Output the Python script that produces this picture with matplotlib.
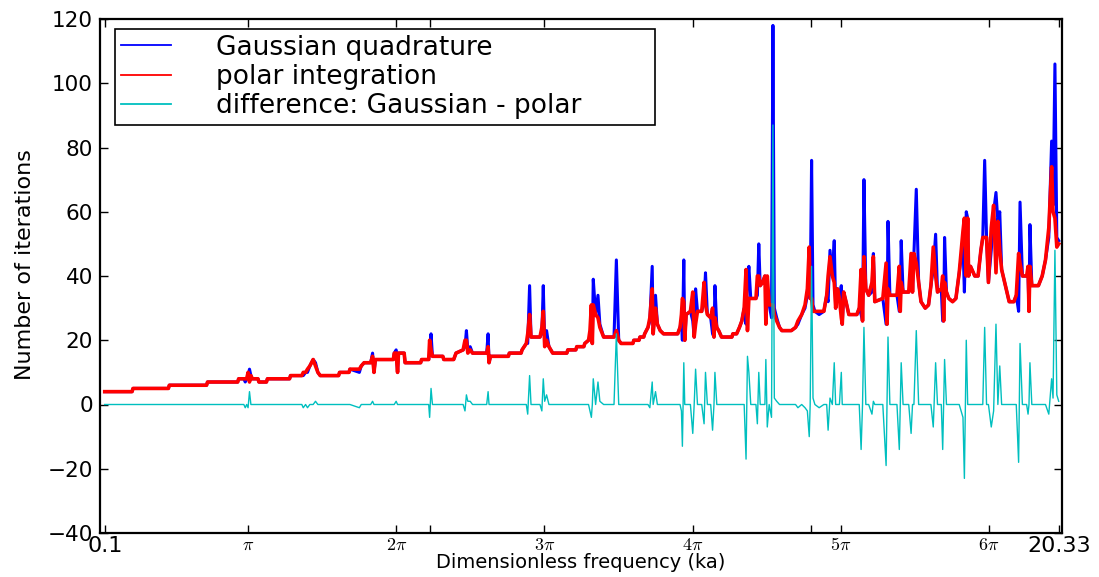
import numpy as np
import matplotlib
matplotlib.use("Agg")
import matplotlib.pyplot as plt

# ---------------- data ----------------
ka = [0.10, 0.68, 0.70, 1.45, 1.47, 2.26, 2.28, 2.92, 2.94, 3.05,
      3.08, 3.11, 3.14, 3.17, 3.20, 3.23, 3.35, 3.37, 3.53, 3.55,
      4.02, 4.04, 4.28, 4.31, 4.36, 4.40, 4.45, 4.52, 4.57, 4.62,
      4.67, 5.06, 5.08, 5.28, 5.30, 5.50, 5.54, 5.60, 5.74, 5.78,
      5.81, 5.84, 6.22, 6.24, 6.28, 6.31, 6.33, 6.45, 6.47, 6.80,
      6.82, 6.97, 6.99, 7.02, 7.05, 7.27, 7.29, 7.50, 7.55, 7.70,
      7.74, 7.77, 7.80, 7.85, 7.90, 8.20, 8.23, 8.25, 8.28, 8.66,
      8.68, 8.93, 8.95, 9.04, 9.07, 9.11, 9.14, 9.33, 9.37, 9.40,
      9.43, 9.47, 9.52, 9.60, 9.90, 9.92, 10.09, 10.11, 10.26, 10.28,
      10.36, 10.39, 10.42, 10.44, 10.46, 10.51, 10.56, 10.60, 10.68, 10.90,
      10.95, 11.00, 11.05, 11.30, 11.32, 11.43, 11.45, 11.53, 11.55, 11.62,
      11.66, 11.71, 11.73, 11.78, 11.82, 11.88, 11.95, 12.25, 12.30, 12.33,
      12.35, 12.38, 12.40, 12.43, 12.52, 12.57, 12.60, 12.63, 12.67, 12.76,
      12.81, 12.84, 12.88, 12.95, 12.99, 13.02, 13.04, 13.08, 13.12, 13.18,
      13.40, 13.42, 13.50, 13.56, 13.61, 13.66, 13.70, 13.73, 13.76, 13.80,
      13.91, 13.94, 13.97, 14.00, 14.05, 14.10, 14.12, 14.15, 14.19, 14.24,
      14.27, 14.30, 14.35, 14.41, 14.46, 14.66, 14.75, 14.80, 14.88, 14.95,
      15.00, 15.04, 15.06, 15.09, 15.12, 15.16, 15.25, 15.35, 15.41, 15.44,
      15.48, 15.53, 15.57, 15.60, 15.64, 15.68, 15.72, 15.74, 15.77, 15.82,
      15.88, 16.05, 16.10, 16.14, 16.17, 16.20, 16.24, 16.30, 16.37, 16.40,
      16.43, 16.60, 16.67, 16.69, 16.71, 16.75, 16.90, 16.95, 16.97, 16.99,
      17.03, 17.15, 17.20, 17.23, 17.26, 17.31, 17.36, 17.41, 17.50, 17.57,
      17.62, 17.67, 17.72, 17.76, 17.84, 17.87, 17.89, 17.91, 17.95, 18.00,
      18.08, 18.15, 18.22, 18.30, 18.33, 18.37, 18.40, 18.42, 18.46, 18.55,
      18.62, 18.68, 18.72, 18.76, 18.80, 18.84, 18.90, 18.95, 19.00, 19.04,
      19.08, 19.12, 19.20, 19.28, 19.38, 19.43, 19.48, 19.51, 19.56, 19.65,
      19.68, 19.70, 19.72, 19.76, 19.90, 19.98, 20.05, 20.12, 20.18, 20.21,
      20.25, 20.29, 20.33]

n_polar = [4, 4, 5, 5, 6, 6, 7, 7, 8, 8,
           8, 8, 10, 7, 9, 8, 8, 7, 7, 8,
           8, 9, 9, 10, 10, 11, 12, 14, 12, 10,
           9, 9, 10, 10, 11, 11, 12, 13, 13, 15,
           10, 14, 14, 16, 16, 10, 16, 16, 13, 13,
           14, 14, 20, 17, 15, 15, 14, 14, 16, 17,
           20, 20, 16, 17, 16, 16, 18, 13, 15, 15,
           16, 16, 17, 19, 22, 28, 21, 21, 24, 29,
           18, 20, 18, 16, 16, 17, 17, 18, 18, 19,
           20, 23, 31, 19, 31, 28, 27, 24, 21, 21,
           23, 20, 19, 19, 20, 20, 21, 21, 22, 24,
           27, 36, 22, 30, 25, 23, 22, 22, 24, 28,
           33, 32, 20, 28, 29, 35, 21, 25, 29, 29,
           38, 31, 28, 27, 30, 21, 27, 24, 23, 21,
           21, 22, 22, 24, 26, 30, 42, 23, 33, 33,
           33, 40, 40, 37, 38, 40, 25, 40, 31, 31,
           31, 28, 26, 24, 23, 23, 24, 26, 28, 31,
           36, 49, 33, 33, 29, 29, 29, 29, 34, 40,
           46, 40, 38, 30, 36, 33, 27, 25, 35, 32,
           28, 28, 30, 42, 26, 46, 36, 34, 38, 46,
           32, 33, 44, 25, 36, 34, 34, 43, 29, 38,
           35, 35, 47, 35, 47, 44, 38, 32, 30, 31,
           37, 49, 40, 35, 36, 40, 26, 38, 35, 33,
           32, 33, 41, 54, 58, 40, 58, 40, 43, 40,
           40, 48, 52, 52, 52, 38, 55, 62, 41, 57,
           48, 42, 37, 32, 32, 34, 47, 44, 40, 40,
           43, 29, 43, 37, 37, 40, 45, 55, 74, 60,
           58, 49, 50]

n_gauss = [4, 4, 5, 5, 6, 6, 7, 7, 8, 8,
           7, 8, 9, 11, 9, 8, 8, 7, 7, 8,
           8, 9, 9, 9, 10, 10, 12, 14, 13, 10,
           9, 9, 10, 10, 11, 10, 12, 13, 13, 16,
           10, 14, 14, 16, 17, 10, 16, 16, 13, 13,
           14, 14, 16, 22, 15, 15, 14, 14, 16, 17,
           18, 23, 17, 18, 16, 16, 22, 13, 15, 15,
           16, 16, 17, 19, 19, 37, 21, 21, 22, 37,
           19, 23, 18, 16, 16, 17, 17, 18, 18, 19,
           20, 21, 27, 19, 39, 28, 34, 25, 21, 21,
           45, 20, 19, 19, 20, 20, 21, 21, 22, 24,
           26, 43, 22, 34, 25, 23, 22, 22, 24, 26,
           20, 45, 20, 28, 29, 26, 21, 36, 29, 29,
           32, 41, 28, 27, 22, 21, 37, 24, 23, 21,
           21, 22, 22, 24, 26, 30, 25, 38, 43, 33,
           33, 34, 50, 37, 38, 40, 39, 33, 31, 27,
           118, 30, 27, 24, 23, 23, 24, 25, 28, 30,
           34, 39, 33, 76, 31, 29, 28, 29, 34, 32,
           48, 40, 51, 30, 36, 33, 37, 25, 35, 32,
           28, 28, 30, 28, 26, 70, 36, 34, 35, 47,
           32, 33, 25, 25, 57, 34, 34, 29, 29, 51,
           35, 35, 38, 35, 47, 67, 38, 32, 30, 31,
           37, 42, 53, 35, 36, 26, 26, 52, 35, 33,
           32, 33, 41, 50, 35, 60, 58, 40, 43, 40,
           40, 48, 52, 76, 52, 38, 48, 60, 66, 57,
           60, 42, 37, 32, 32, 34, 29, 63, 40, 40,
           40, 29, 56, 37, 37, 40, 45, 52, 82, 62,
           106, 52, 51]

tick_values = [0.1, np.pi, 2 * np.pi, 7.0, 3 * np.pi, 4 * np.pi, 15.08,
               5 * np.pi, 6 * np.pi, 20.33]
tick_labels = ['0.1', r'$\pi$', r'$2\pi$', '', r'$3\pi$', r'$4\pi$', '',
               r'$5\pi$', r'$6\pi$', '20.33']
y_ticks = [-40, -20, 0, 20, 40, 60, 80, 100, 120]

series_labels = ['Gaussian quadrature', 'polar integration',
                 'difference: Gaussian - polar']

# ---------------- plotting ----------------
plt.rcParams['mathtext.fontset'] = 'cm'
plt.rcParams['font.family'] = ['DejaVu Sans']

ka_a = np.array(ka)
g = np.array(n_gauss, dtype=float)
p = np.array(n_polar, dtype=float)
diff = g - p

fig = plt.figure(figsize=(10.99, 5.77), dpi=100)
ax = fig.add_axes([100 / 1099, 1 - 533 / 577, 962 / 1099, 514 / 577])

ax.plot(ka_a, g, color='#0000ff', lw=2.2, label=series_labels[0])
ax.plot(ka_a, p, color='#ff0000', lw=2.6, label=series_labels[1])
ax.plot(ka_a, diff, color='#00bfbf', lw=1.0, label=series_labels[2])

ax.set_xlim(0.0, 20.4)
ax.set_ylim(-40, 120)
ax.set_yticks(y_ticks)
ax.set_yticklabels([('\u2212%d' % -v) if v < 0 else '%d' % v for v in y_ticks],
                   fontsize=15.5)
ax.set_xticks(tick_values)
ax.set_xticklabels(tick_labels)
for t, lab in zip(ax.get_xticklabels(), tick_labels):
    if lab.startswith('$'):
        t.set_fontsize(13)
    else:
        t.set_fontsize(16)

ax.tick_params(direction='in', top=True, right=True, length=6, width=1.0,
               colors='black')
ax.tick_params(axis='x', pad=2)
ax.tick_params(axis='y', pad=5)
for s in ax.spines.values():
    s.set_linewidth(1.6)

ax.set_xlabel('Dimensionless frequency (ka)', fontsize=14, labelpad=-2)
ax.set_ylabel('Number of iterations', fontsize=16, family='DejaVu Sans')
ax.yaxis.set_label_coords(-0.068, 0.523)

leg = ax.legend(loc='upper left',
                bbox_to_anchor=(15 / 962, 0.0, 540 / 962, 504 / 514),
                mode='expand', borderaxespad=0, fontsize=19, frameon=True,
                fancybox=False, framealpha=1, edgecolor='black',
                handlelength=1.9, handletextpad=1.72, labelspacing=0.13,
                borderpad=0.21)
leg.get_frame().set_linewidth(1.2)
for h in leg.get_lines():
    h.set_linewidth(1.3)

fig.savefig('out.png', dpi=100)
